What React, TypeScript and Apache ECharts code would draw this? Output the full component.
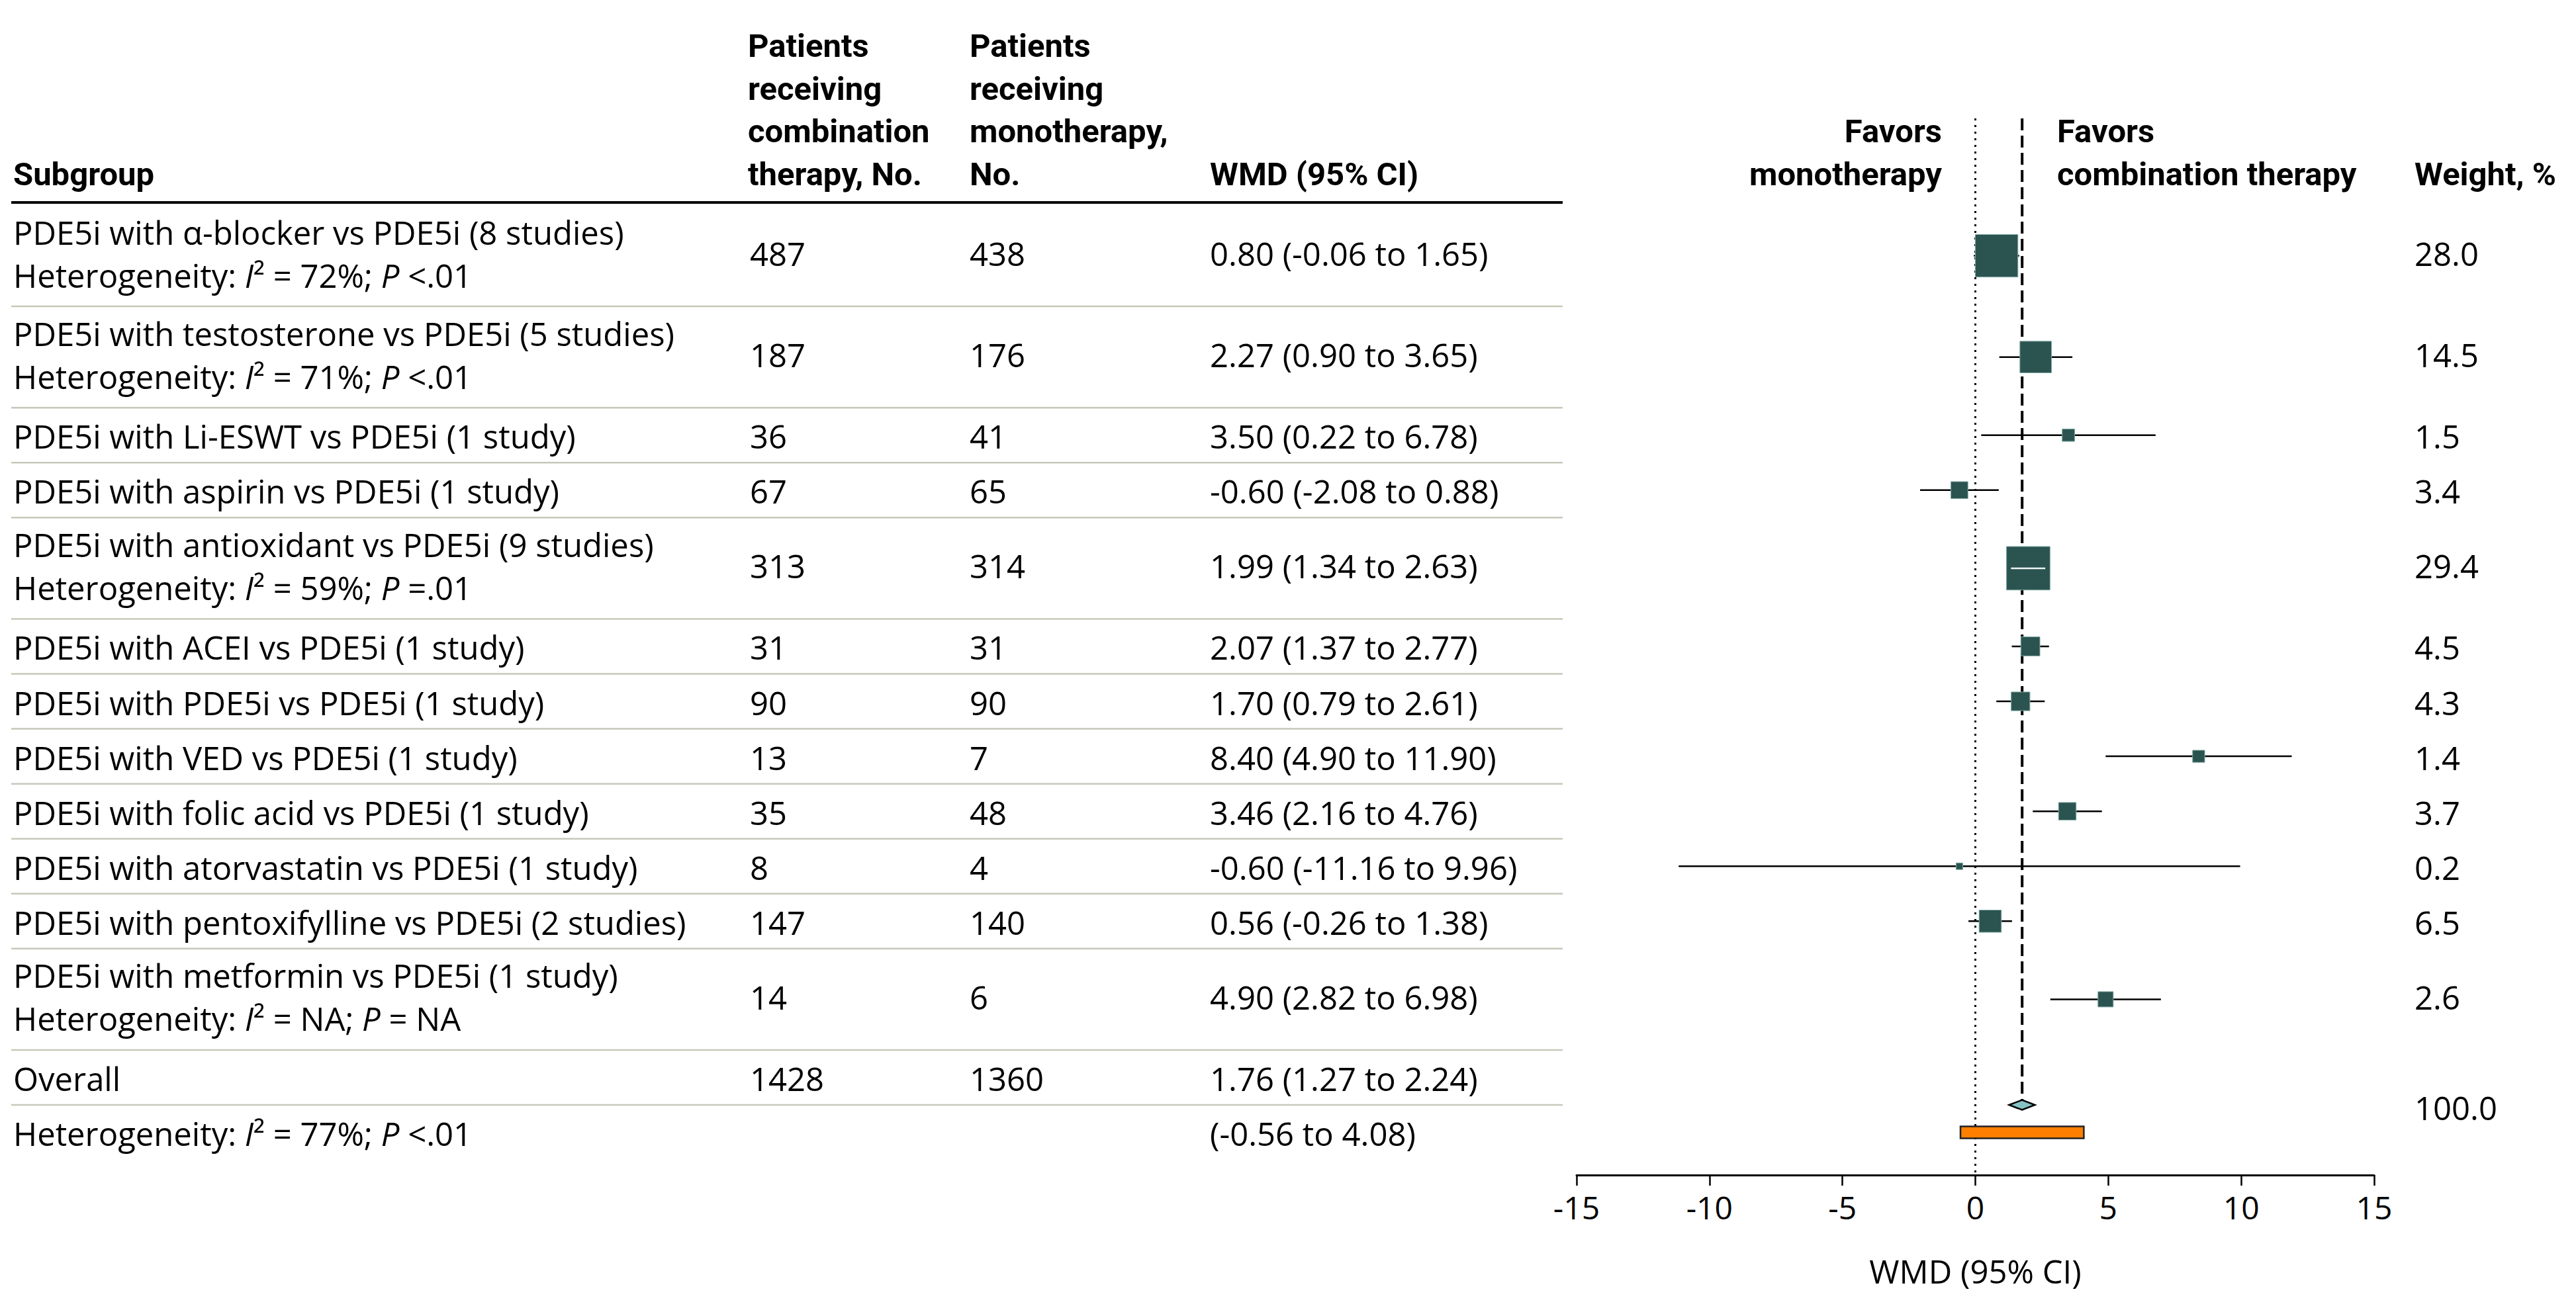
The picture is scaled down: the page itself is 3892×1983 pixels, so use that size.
import React, { useEffect, useRef } from "react";
import * as echarts from "echarts";

// ---------------- DATA ----------------
const subgroups = [
  "PDE5i with α-blocker vs PDE5i (8 studies)",
  "PDE5i with testosterone vs PDE5i (5 studies)",
  "PDE5i with Li-ESWT vs PDE5i (1 study)",
  "PDE5i with aspirin vs PDE5i (1 study)",
  "PDE5i with antioxidant vs PDE5i (9 studies)",
  "PDE5i with ACEI vs PDE5i (1 study)",
  "PDE5i with PDE5i vs PDE5i (1 study)",
  "PDE5i with VED vs PDE5i (1 study)",
  "PDE5i with folic acid vs PDE5i (1 study)",
  "PDE5i with atorvastatin vs PDE5i (1 study)",
  "PDE5i with pentoxifylline vs PDE5i (2 studies)",
  "PDE5i with metformin vs PDE5i (1 study)",
];
const hetI2: (string | null)[] = ["72%", "71%", null, null, "59%", null, null, null, null, null, null, "NA"];
const hetP: (string | null)[] = ["<.01", "<.01", null, null, "=.01", null, null, null, null, null, null, "= NA"];
const nCombination = [487, 187, 36, 67, 313, 31, 90, 13, 35, 8, 147, 14];
const nMonotherapy = [438, 176, 41, 65, 314, 31, 90, 7, 48, 4, 140, 6];
const wmd = [0.8, 2.27, 3.5, -0.6, 1.99, 2.07, 1.7, 8.4, 3.46, -0.6, 0.56, 4.9];
const ciLow = [-0.06, 0.9, 0.22, -2.08, 1.34, 1.37, 0.79, 4.9, 2.16, -11.16, -0.26, 2.82];
const ciHigh = [1.65, 3.65, 6.78, 0.88, 2.63, 2.77, 2.61, 11.9, 4.76, 9.96, 1.38, 6.98];
const weights = [28.0, 14.5, 1.5, 3.4, 29.4, 4.5, 4.3, 1.4, 3.7, 0.2, 6.5, 2.6];

const overallLabel = "Overall";
const overallNCombination = 1428;
const overallNMonotherapy = 1360;
const overallWmd = 1.76;
const overallLow = 1.27;
const overallHigh = 2.24;
const overallWeight = 100.0;
const overallHetI2 = "77%";
const overallHetP = "<.01";
const predictionLow = -0.56;
const predictionHigh = 4.08;

const xTicksMin = -15;
const xTicksMax = 15;
const xTickStep = 5;

// ---------------- LAYOUT ----------------
const W = 3892;
const H = 1983;
const BODY = "'Open Sans', 'Noto Sans', 'DejaVu Sans', sans-serif";
const HEAD = "Roboto, 'Open Sans', sans-serif";
const FS = 49;
const SLOT = 83.07;
const DOUBLE = 1.843;
const ROW0 = 310;
const GRID_TOP = 179;
const AXIS_Y = 1776;
const PLOT_L = 2382;
const PLOT_R = 3587;
const LINE_GAP = 32.5;
const COL1 = 20;
const COL2 = 1133;
const COL3 = 1465;
const COL4 = 1828;
const COLW = 3648;
const TABLE_L = 17;
const TABLE_R = 2361;
const HEAD_Y = 262;
const HEAD_STEP = 64.7;
const TXT_SHIFT = 1.5;
const DOUBLE_TXT_SHIFT = -5;

const fmt2 = (v: number) => v.toFixed(2);
const ciText = (e: number, l: number, h: number) => `${fmt2(e)} (${fmt2(l)} to ${fmt2(h)})`;
const hetText = (i2: string, p: string) => `Heterogeneity: {i|I}² = ${i2}; {i|P} ${p}`;

export default function App() {
  const ref = useRef<HTMLDivElement>(null);

  useEffect(() => {
    document.body.style.margin = "0";
    const chart = echarts.init(ref.current!, null, { renderer: "svg" });

    // row geometry in "slot" units
    const rowStart: number[] = [];
    const rowCenter: number[] = [];
    const rowEnd: number[] = [];
    let acc = 0;
    subgroups.forEach((_, i) => {
      const h = hetI2[i] ? DOUBLE : 1;
      rowStart.push(acc);
      rowCenter.push(acc + h / 2);
      acc += h;
      rowEnd.push(acc);
    });
    const overallCenter = acc + 0.5;
    const diamondY = acc + 1;
    const hetCenter = acc + 1.5;
    const yPx = (s: number) => ROW0 + s * SLOT;
    const yMin = (GRID_TOP - ROW0) / SLOT;
    const yMax = (AXIS_Y - ROW0) / SLOT;

    const rich = {
      i: { fontStyle: "italic", fontSize: FS, fontFamily: BODY, fill: "#000" },
    };
    const txt = (x: number, y: number, text: string, opt: any = {}) => ({
      type: "text",
      x,
      y: y + TXT_SHIFT,
      silent: true,
      style: {
        text,
        fill: "#000",
        fontSize: FS,
        fontFamily: opt.bold ? HEAD : BODY,
        fontWeight: opt.bold ? "bold" : "normal",
        align: opt.align || "left",
        verticalAlign: "middle",
        rich,
      },
    });
    const hline = (y: number, color: string, width: number) => ({
      type: "line",
      silent: true,
      shape: { x1: TABLE_L, y1: y, x2: TABLE_R, y2: y },
      style: { stroke: color, lineWidth: width },
    });

    const graphics: any[] = [];
    // header
    graphics.push(txt(COL1, HEAD_Y, "Subgroup", { bold: true }));
    ["Patients", "receiving", "combination", "therapy, No."].forEach((t, k) =>
      graphics.push(txt(COL2 - 3, HEAD_Y - (3 - k) * HEAD_STEP, t, { bold: true }))
    );
    ["Patients", "receiving", "monotherapy,", "No."].forEach((t, k) =>
      graphics.push(txt(COL3, HEAD_Y - (3 - k) * HEAD_STEP, t, { bold: true }))
    );
    graphics.push(txt(COL4, HEAD_Y, "WMD (95% CI)", { bold: true }));
    graphics.push(txt(2934, HEAD_Y - HEAD_STEP, "Favors", { bold: true, align: "right" }));
    graphics.push(txt(2934, HEAD_Y, "monotherapy", { bold: true, align: "right" }));
    graphics.push(txt(3108, HEAD_Y - HEAD_STEP, "Favors", { bold: true }));
    graphics.push(txt(3108, HEAD_Y, "combination therapy", { bold: true }));
    graphics.push(txt(COLW, HEAD_Y, "Weight, %", { bold: true }));
    graphics.push(hline(306, "#000", 4));

    // body rows
    subgroups.forEach((s, i) => {
      const dbl = !!hetI2[i];
      const c = yPx(rowCenter[i]) + (dbl ? DOUBLE_TXT_SHIFT : 0);
      if (dbl) {
        graphics.push(txt(COL1, c - LINE_GAP, s));
        graphics.push(txt(COL1, c + LINE_GAP, hetText(hetI2[i] as string, hetP[i] as string)));
      } else {
        graphics.push(txt(COL1, c, s));
      }
      graphics.push(txt(COL2, c, String(nCombination[i])));
      graphics.push(txt(COL3, c, String(nMonotherapy[i])));
      graphics.push(txt(COL4, c, ciText(wmd[i], ciLow[i], ciHigh[i])));
      graphics.push(txt(COLW, c, weights[i].toFixed(1)));
      graphics.push(hline(yPx(rowEnd[i]), "#c6c9b9", 2.5));
    });
    // overall
    const oc = yPx(overallCenter);
    graphics.push(txt(COL1, oc, overallLabel));
    graphics.push(txt(COL2, oc, String(overallNCombination)));
    graphics.push(txt(COL3, oc, String(overallNMonotherapy)));
    graphics.push(txt(COL4, oc, ciText(overallWmd, overallLow, overallHigh)));
    graphics.push(hline(yPx(diamondY), "#c6c9b9", 2.5));
    graphics.push(txt(COLW, yPx(diamondY) + 2, overallWeight.toFixed(1)));
    const hc = yPx(hetCenter);
    graphics.push(txt(COL1, hc, hetText(overallHetI2, overallHetP)));
    graphics.push(txt(COL4, hc, `(${fmt2(predictionLow)} to ${fmt2(predictionHigh)})`));

    const option: any = {
      animation: false,
      backgroundColor: "#fff",
      grid: {
        left: PLOT_L,
        right: W - PLOT_R,
        top: GRID_TOP,
        bottom: H - AXIS_Y,
        containLabel: false,
        outerBoundsMode: "none",
      },
      xAxis: {
        type: "value",
        min: xTicksMin,
        max: xTicksMax,
        interval: xTickStep,
        splitLine: { show: false },
        axisLine: { show: true, onZero: false, lineStyle: { color: "#000", width: 3 } },
        axisTick: { show: true, length: 16, lineStyle: { color: "#000", width: 2.5 } },
        axisLabel: { color: "#000", fontSize: 48, fontFamily: BODY, margin: 24 },
        name: "WMD (95% CI)",
        nameLocation: "middle",
        nameGap: 120,
        nameTextStyle: { color: "#000", fontSize: FS, fontFamily: BODY },
      },
      yAxis: {
        type: "value",
        inverse: true,
        min: yMin,
        max: yMax,
        show: false,
        splitLine: { show: false },
      },
      series: [
        {
          type: "line",
          silent: true,
          symbol: "none",
          z: 1,
          data: [
            [0, yMin],
            [0, yMax],
          ],
          lineStyle: { color: "#000", width: 3, type: [3, 7] },
        },
        {
          type: "line",
          silent: true,
          symbol: "none",
          z: 1,
          data: [
            [overallWmd, yMin],
            [overallWmd, diamondY],
          ],
          lineStyle: { color: "#000", width: 4, type: [18, 8] },
        },
        {
          type: "custom",
          silent: true,
          z: 3,
          data: wmd.map((w, i) => [w, ciLow[i], ciHigh[i], rowCenter[i], weights[i]]),
          encode: { x: [0, 1, 2], y: 3 },
          renderItem: (params: any, api: any) => {
            const est = api.value(0);
            const lo = api.value(1);
            const hi = api.value(2);
            const y = api.value(3);
            const wt = api.value(4);
            const c = api.coord([est, y]);
            const pl = api.coord([lo, y]);
            const ph = api.coord([hi, y]);
            const size = 5 + 11.2 * Math.sqrt(wt);
            const inside = pl[0] >= c[0] - size / 2 && ph[0] <= c[0] + size / 2;
            const children: any[] = [
              {
                type: "line",
                shape: { x1: pl[0], y1: c[1], x2: ph[0], y2: c[1] },
                style: { stroke: "#000", lineWidth: 2.5 },
              },
              {
                type: "rect",
                shape: { x: c[0] - size / 2, y: c[1] - size / 2, width: size, height: size },
                style: { fill: "#2b5450", stroke: "#7fa9a5", lineWidth: 1 },
              },
            ];
            if (inside) {
              children.push({
                type: "line",
                shape: { x1: pl[0], y1: c[1], x2: ph[0], y2: c[1] },
                style: { stroke: "#eef4f2", lineWidth: 2.5 },
              });
            }
            return { type: "group", children };
          },
        },
        {
          type: "custom",
          silent: true,
          z: 4,
          data: [[overallWmd, overallLow, overallHigh, diamondY]],
          encode: { x: [0, 1, 2], y: 3 },
          renderItem: (params: any, api: any) => {
            const c = api.coord([api.value(0), api.value(3)]);
            const pl = api.coord([api.value(1), api.value(3)]);
            const ph = api.coord([api.value(2), api.value(3)]);
            const h = 7.5;
            return {
              type: "polygon",
              shape: {
                points: [
                  [pl[0], c[1]],
                  [c[0], c[1] - h],
                  [ph[0], c[1]],
                  [c[0], c[1] + h],
                ],
              },
              style: { fill: "#86c3c3", stroke: "#000", lineWidth: 2.5 },
            };
          },
        },
        {
          type: "custom",
          silent: true,
          z: 4,
          data: [[predictionLow, predictionHigh, hetCenter]],
          encode: { x: [0, 1], y: 2 },
          renderItem: (params: any, api: any) => {
            const pl = api.coord([api.value(0), api.value(2)]);
            const ph = api.coord([api.value(1), api.value(2)]);
            const h = 18;
            return {
              type: "rect",
              shape: { x: pl[0], y: pl[1] - h / 2, width: ph[0] - pl[0], height: h },
              style: { fill: "#ff8000", stroke: "#222", lineWidth: 2.5 },
            };
          },
        },
      ],
      graphic: graphics,
    };

    chart.setOption(option);
    return () => chart.dispose();
  }, []);

  return <div ref={ref} style={{ width: W, height: H }} />;
}
